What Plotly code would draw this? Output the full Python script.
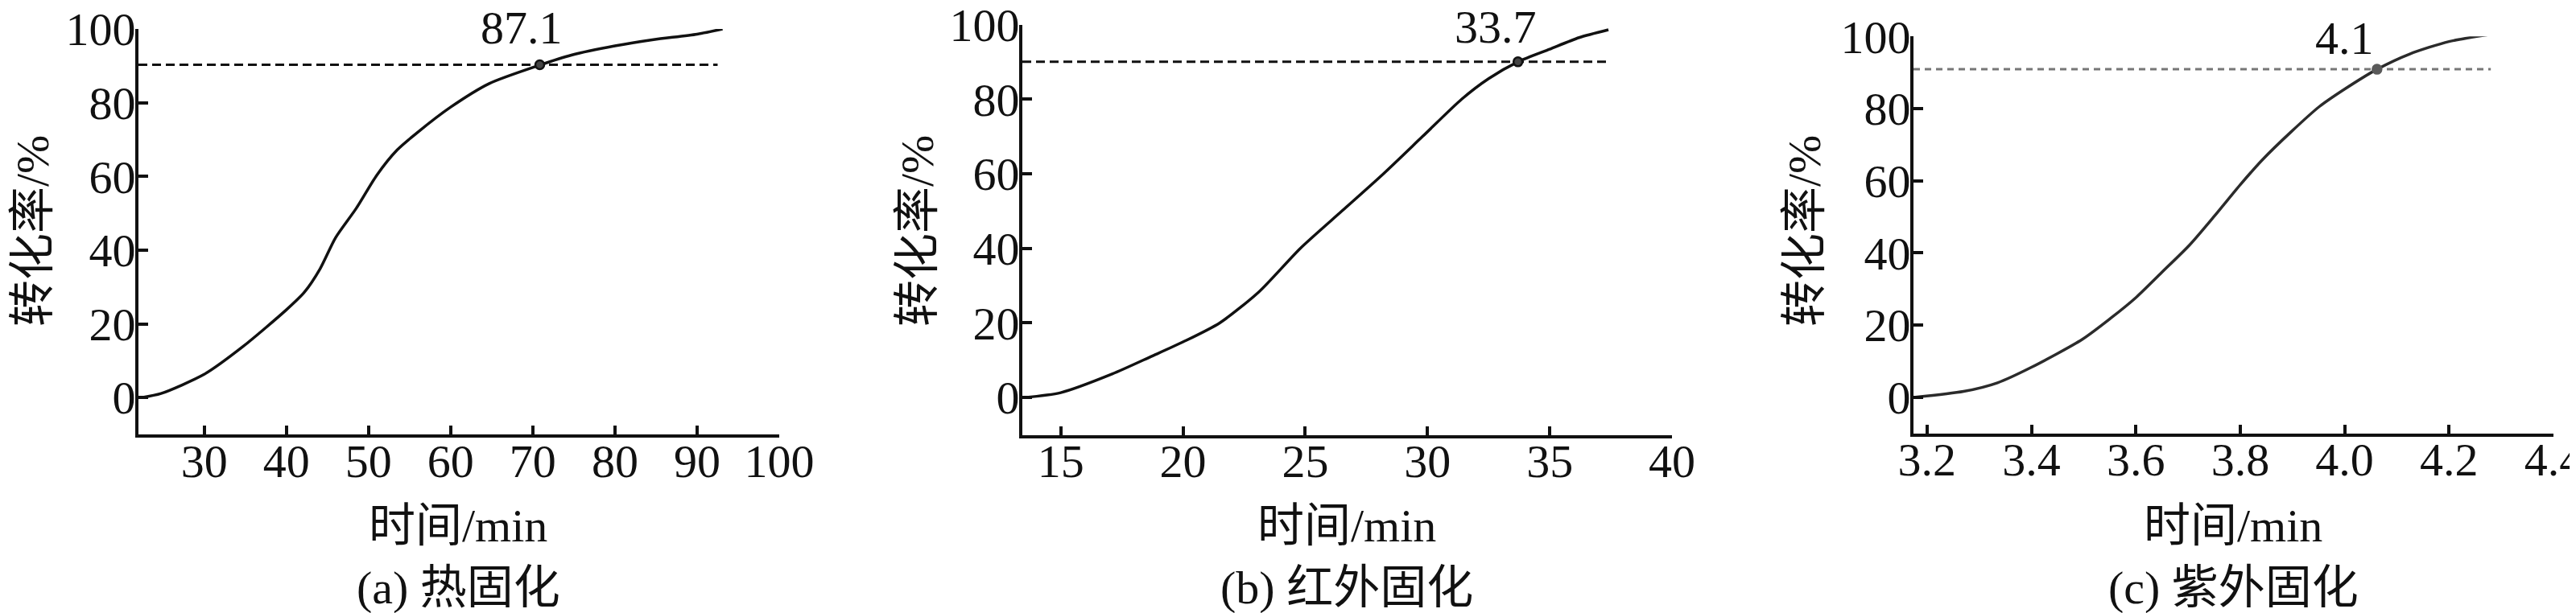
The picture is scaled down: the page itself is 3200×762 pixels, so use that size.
import plotly.graph_objects as go

W, H = 3200, 762

# ---------------- data ----------------
# (a) 热固化
a_time = [22.4, 24.75, 30, 34.7, 40, 42.2, 44.1, 46, 48.5, 51, 53.5, 56, 60, 64.7, 70.85, 74.7, 80, 84.7, 90, 93.1]
a_conv = [0, 1.1, 6.3, 13.8, 23.8, 28.6, 34.9, 43.4, 51.3, 60.3, 67.2, 72, 78.8, 85.2, 90.2, 92.9, 95.4, 97.1, 98.6, 100]
a_point = (70.85, 90.3)
a_label = "87.1"
a_dash_x = [22, 92.5]
a_dash_y = [90.3, 90.3]

# (b) 红外固化
b_time = [13.5, 15, 17.1, 18.7, 20, 21.5, 23.1, 24.8, 26.5, 28.2, 29.8, 31.4, 32.5, 33.7, 35, 36.2, 37.4]
b_conv = [0, 1.3, 6.3, 11, 14.9, 20, 28.3, 40, 50, 60, 70, 80, 85.5, 90, 93.4, 96.5, 98.6]
b_point = (33.7, 90.0)
b_label = "33.7"
b_dash_x = [13.43, 37.3]
b_dash_y = [90.0, 90.0]

# (c) 紫外固化
c_time = [3.178, 3.27, 3.335, 3.4, 3.497, 3.551, 3.6, 3.649, 3.703, 3.751, 3.8, 3.843, 3.897, 3.951, 4.0, 4.062, 4.124, 4.2, 4.295]
c_conv = [0, 1.6, 4.0, 8.3, 16.0, 21.8, 27.6, 34.5, 42.2, 50.3, 58.9, 65.9, 73.5, 80.5, 85.4, 90.9, 95.1, 98.6, 100.9]
c_point = (4.062, 90.9)
c_label = "4.1"
c_dash_x = [3.174, 4.28]
c_dash_y = [90.9, 90.9]

a_xticks = [30, 40, 50, 60, 70, 80, 90, 100]
b_xticks = [15, 20, 25, 30, 35, 40]
c_xticks = [3.2, 3.4, 3.6, 3.8, 4.0, 4.2, 4.4]
y_ticks = [0, 20, 40, 60, 80, 100]

x_title = "时间/min"
y_title = "转化率/%"
captions = ["(a) 热固化", "(b) 红外固化", "(c) 紫外固化"]

# ---------------- layout helpers ----------------
FONT = "Liberation Serif, Times New Roman, Noto Sans CJK SC, serif"
FS = 58

def px(x):
    return x / W

def py(y):
    return 1 - y / H

panels = [
    dict(xd=[px(164), px(960)], yd=[py(532), py(28)], xr=[22, 100], xt=a_xticks, fmt=None,
         t=a_time, v=a_conv, pt=a_point, lab=a_label, dx=a_dash_x, dy=a_dash_y,
         col="#111111", dcol="#111111", mcol="#444444", labx=68.6, labshift=20, dash="11px,6px",
         ytx=32, xtx=561, cap=captions[0]),
    dict(xd=[px(1262), px(2069)], yd=[py(532.5), py(22.5)], xr=[13.43, 40], xt=b_xticks, fmt=None,
         t=b_time, v=b_conv, pt=b_point, lab=b_label, dx=b_dash_x, dy=b_dash_y,
         col="#111111", dcol="#111111", mcol="#444444", labx=32.8, labshift=16, dash="11px,6px",
         ytx=1131, xtx=1665, cap=captions[1]),
    dict(xd=[px(2369), px(3164)], yd=[py(530.6), py(37.3)], xr=[3.174, 4.4], xt=c_xticks, fmt=".1f",
         t=c_time, v=c_conv, pt=c_point, lab=c_label, dx=c_dash_x, dy=c_dash_y,
         col="#2b2b2b", dcol="#777777", mcol="#5a5a5a", labx=4.0, labshift=16, dash="8px,6px",
         ytx=2233, xtx=2766, cap=captions[2]),
]

fig = go.Figure()
annotations = []
for i, p in enumerate(panels, start=1):
    xa = "x" if i == 1 else f"x{i}"
    ya = "y" if i == 1 else f"y{i}"
    # dashed reference line
    fig.add_trace(go.Scatter(x=p["dx"], y=p["dy"], mode="lines",
                             line=dict(color=p["dcol"], width=3, dash=p["dash"]),
                             xaxis=xa, yaxis=ya, showlegend=False, hoverinfo="skip"))
    # conversion curve
    fig.add_trace(go.Scatter(x=p["t"], y=p["v"], mode="lines",
                             line=dict(color=p["col"], width=3.5, shape="spline", smoothing=0.7),
                             xaxis=xa, yaxis=ya, showlegend=False))
    # marked point
    fig.add_trace(go.Scatter(x=[p["pt"][0]], y=[p["pt"][1]], mode="markers",
                             marker=dict(size=11, color=p["mcol"],
                                         line=dict(color=p["col"] if i < 3 else p["mcol"], width=2.5)),
                             xaxis=xa, yaxis=ya, showlegend=False))
    annotations.append(dict(x=p["labx"], y=96, xref=xa, yref=ya, text=p["lab"],
                            showarrow=False, xanchor="center", yanchor="middle", yshift=p["labshift"],
                            font=dict(family=FONT, size=FS, color="#111111")))
    # axis titles and captions
    annotations.append(dict(x=px(p["ytx"]), y=py(279), xref="paper", yref="paper", text=y_title,
                            textangle=-90, showarrow=False, xanchor="center", yanchor="middle",
                            font=dict(family=FONT, size=FS, color="#111111")))
    annotations.append(dict(x=px(p["xtx"]), y=py(645), xref="paper", yref="paper", text=x_title,
                            showarrow=False, xanchor="center", yanchor="middle",
                            font=dict(family=FONT, size=FS, color="#111111")))
    annotations.append(dict(x=px(p["xtx"]), y=py(722), xref="paper", yref="paper", text=p["cap"],
                            showarrow=False, xanchor="center", yanchor="middle",
                            font=dict(family=FONT, size=FS, color="#111111")))

    xaxis = dict(domain=p["xd"], range=p["xr"], tickvals=p["xt"],
                 ticktext=[(f"{v:.1f}" if p["fmt"] else f"{v:g}") for v in p["xt"]],
                 showgrid=False, zeroline=False, showline=True, linecolor="#111111", linewidth=4,
                 ticks="inside", ticklen=11, tickwidth=3.5, tickcolor="#111111",
                 tickfont=dict(family=FONT, size=FS, color="#111111"), ticklabelstandoff=-21,
                 ticklabeloverflow="allow",
                 anchor=ya, fixedrange=True, automargin=False)
    yaxis = dict(domain=p["yd"], range=[-10, 100], tickvals=y_ticks,
                 showgrid=False, zeroline=False, showline=True, linecolor="#111111", linewidth=4,
                 ticks="inside", ticklen=12, tickwidth=3.5, tickcolor="#111111",
                 tickfont=dict(family=FONT, size=FS, color="#111111"), ticklabelstandoff=-12,
                 ticklabeloverflow="allow",
                 anchor=xa, fixedrange=True, automargin=False)
    key = "" if i == 1 else str(i)
    fig.update_layout(**{f"xaxis{key}": xaxis, f"yaxis{key}": yaxis})

fig.update_layout(width=W, height=H, margin=dict(l=0, r=0, t=0, b=0, autoexpand=False),
                  paper_bgcolor="white", plot_bgcolor="white",
                  annotations=annotations, showlegend=False)

fig.write_html("out.html", config={"displayModeBar": False})
